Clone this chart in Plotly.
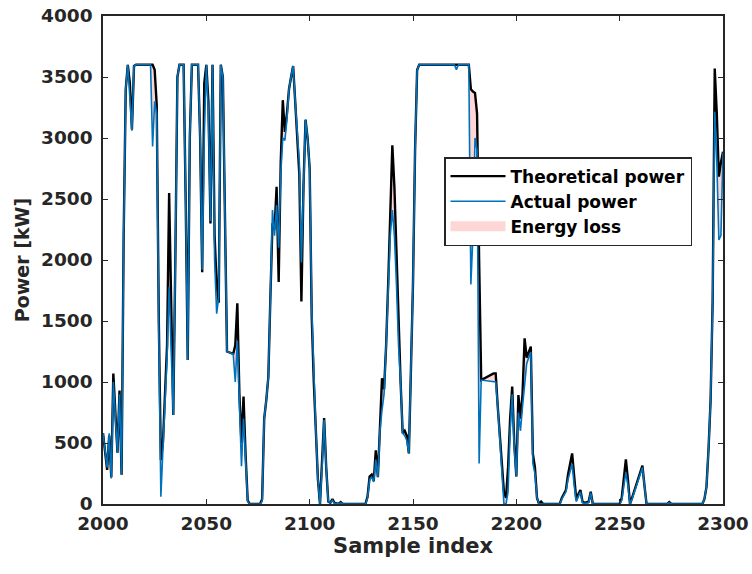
import plotly.graph_objects as go

# Sample index breakpoints and readings (kW)
sample_idx = [
    2000, 2001, 2002, 2003, 2004, 2005, 2006, 2007, 2008, 2009, 2010, 2011, 2012, 2013, 2014, 2015, 2016, 2023,
    2024, 2025, 2026, 2027, 2028, 2029, 2031, 2032, 2033, 2034, 2035, 2036, 2037, 2039, 2040, 2041, 2042, 2043,
    2046, 2047, 2048, 2049, 2050, 2051, 2052, 2053, 2054, 2055, 2056, 2057, 2058, 2059, 2060, 2063, 2064, 2065,
    2066, 2067, 2068, 2069, 2070, 2071, 2076, 2077, 2078, 2079, 2080, 2081, 2082, 2083, 2084, 2085, 2086, 2087,
    2088, 2089, 2090, 2091, 2092, 2093, 2094, 2095, 2096, 2097, 2098, 2099, 2100, 2101, 2102, 2103, 2104, 2105,
    2106, 2107, 2108, 2109, 2110, 2111, 2112, 2114, 2115, 2116, 2127, 2128, 2129, 2130, 2131, 2132, 2133, 2134,
    2135, 2136, 2137, 2138, 2139, 2140, 2141, 2142, 2143, 2144, 2145, 2146, 2147, 2148, 2149, 2150, 2151, 2152,
    2153, 2170, 2171, 2172, 2177, 2178, 2179, 2180, 2181, 2182, 2183, 2189, 2190, 2191, 2194, 2195, 2196, 2197,
    2198, 2199, 2200, 2201, 2202, 2203, 2204, 2205, 2206, 2207, 2208, 2209, 2210, 2211, 2212, 2213, 2221, 2222,
    2224, 2225, 2227, 2228, 2229, 2230, 2231, 2232, 2233, 2235, 2236, 2237, 2250, 2251, 2253, 2254, 2255, 2256,
    2261, 2262, 2263, 2273, 2274, 2275, 2290, 2291, 2292, 2293, 2294, 2295, 2296, 2297, 2298, 2299, 2300,
]

theoretical_power = [
    580, 400, 280, 560, 220, 1070, 700, 420, 930, 240, 2200, 3400, 3600, 3450, 3070, 3590, 3600, 3600,
    3600, 3560, 3270, 1500, 360, 500, 1300, 2550, 1500, 730, 2000, 3500, 3600, 3600, 2500, 1180, 3000, 3600,
    3600, 3000, 1900, 3450, 3600, 3300, 2300, 3600, 2200, 1800, 1650, 3600, 3500, 2300, 1250, 1230, 1300, 1645,
    900, 500, 880, 400, 30, 0, 0, 40, 700, 850, 1040, 1700, 2300, 2250, 2600, 1820, 2800, 3310,
    3050, 3200, 3400, 3500, 3590, 3300, 2950, 2700, 1660, 2600, 3150, 3000, 2750, 1535, 1000, 600, 200, 0,
    300, 705, 300, 20, 10, 40, 10, 0, 15, 0, 0, 60, 225, 240, 190, 440, 220, 700,
    1030, 940, 1300, 1810, 2500, 2940, 2600, 2000, 1400, 1000, 580, 600, 560, 415, 1100, 1810, 2900, 3557,
    3600, 3600, 3600, 3600, 3600, 3400, 3380, 3370, 3200, 2000, 1016, 1071, 1071, 800, 100, 50, 300, 700,
    962, 500, 225, 893, 700, 900, 1358, 1200, 1250, 1290, 410, 300, 50, 0, 20, 0, 0, 50,
    115, 240, 415, 200, 33, 80, 115, 20, 10, 20, 100, 0, 0, 50, 365, 200, 0, 50,
    315, 150, 0, 0, 15, 0, 0, 40, 140, 450, 850, 1670, 3570, 3200, 2683, 2800, 2888,
]

actual_power = [
    580, 430, 300, 580, 210, 1000, 650, 420, 900, 240, 2190, 3400, 3600, 3350, 3060, 3590, 3600, 3600,
    2930, 3300, 3200, 1400, 60, 450, 1200, 1780, 1300, 730, 2000, 3500, 3600, 3600, 2500, 1180, 3000, 3600,
    3600, 3000, 1920, 3000, 3600, 3200, 2320, 3600, 2000, 1560, 1700, 3600, 3500, 2300, 1250, 1230, 1000, 1340,
    800, 310, 700, 300, 20, 0, 0, 20, 700, 850, 1040, 1700, 2410, 2200, 2450, 2100, 2700, 3000,
    2980, 3150, 3400, 3500, 3590, 3300, 3000, 2800, 1980, 2600, 3150, 3000, 2750, 1600, 1000, 600, 200, 0,
    300, 690, 300, 20, 10, 30, 5, 0, 10, 0, 0, 50, 200, 220, 180, 365, 220, 600,
    770, 900, 1300, 1750, 2200, 2410, 2200, 1800, 1300, 1000, 580, 560, 520, 415, 1100, 1810, 2900, 3557,
    3600, 3600, 3560, 3600, 3600, 1800, 2200, 3000, 2900, 333, 1016, 1000, 1000, 800, 0, 0, 100, 600,
    900, 450, 225, 750, 600, 800, 950, 1150, 1200, 1245, 333, 250, 50, 0, 0, 0, 0, 40,
    100, 200, 330, 150, 20, 60, 100, 10, 5, 10, 90, 0, 0, 30, 260, 150, 0, 40,
    300, 150, 0, 0, 10, 0, 0, 40, 140, 450, 850, 1670, 3216, 2800, 2164, 2200, 2880,
]

x_ticks = [2000, 2050, 2100, 2150, 2200, 2250, 2300]
y_ticks = [0, 500, 1000, 1500, 2000, 2500, 3000, 3500, 4000]

loss_floor = [min(a, t) for a, t in zip(actual_power, theoretical_power)]

FONT = "DejaVu Sans"
AX = "#262626"
PINK = "#ffd6d6"

fig = go.Figure()
fig.add_trace(go.Scatter(x=sample_idx, y=loss_floor, mode="lines", line=dict(width=0),
                         showlegend=False, hoverinfo="skip"))
fig.add_trace(go.Scatter(x=sample_idx, y=theoretical_power, mode="lines", line=dict(width=0),
                         fill="tonexty", fillcolor=PINK, showlegend=False, hoverinfo="skip"))
fig.add_trace(go.Scatter(x=sample_idx, y=theoretical_power, mode="lines",
                         line=dict(color="black", width=2.4), name="Theoretical power", legendrank=1))
fig.add_trace(go.Scatter(x=sample_idx, y=actual_power, mode="lines",
                         line=dict(color="#0072BD", width=1.6), name="Actual power", legendrank=2))
# legend entry for the shaded loss area
fig.add_trace(go.Scatter(x=[None], y=[None], mode="lines", line=dict(color=PINK, width=18),
                         name="Energy loss", legendrank=3))

axis_common = dict(showline=True, linecolor=AX, linewidth=1.5, mirror="ticks", ticks="inside",
                   ticklen=5, tickwidth=1.2, tickcolor=AX, showgrid=False, zeroline=False,
                   automargin=False,
                   tickfont=dict(family=FONT, size=18.5, color=AX, weight="bold"))

fig.update_xaxes(range=[2000, 2300], tickvals=x_ticks, ticktext=[str(v) for v in x_ticks],
                 ticklabelstandoff=2,
                 title=dict(text="Sample index", font=dict(family=FONT, size=21, color=AX, weight="bold"),
                            standoff=4),
                 **axis_common)
fig.update_yaxes(range=[0, 4000], tickvals=y_ticks, ticktext=[str(v) for v in y_ticks],
                 ticklabelstandoff=5,
                 title=dict(text="Power [kW]", font=dict(family=FONT, size=19, color=AX, weight="bold"),
                            standoff=6),
                 **axis_common)

fig.update_layout(
    width=752, height=574,
    margin=dict(l=103, r=29, t=16, b=70),
    plot_bgcolor="white", paper_bgcolor="white",
    legend=dict(x=0.550, y=0.711, xanchor="left", yanchor="top", traceorder="normal",
                bgcolor="white", bordercolor=AX, borderwidth=1.5,
                font=dict(family=FONT, size=17, color="black", weight="bold"),
                tracegroupgap=0, itemwidth=55),
)

fig.write_html("out.html")
